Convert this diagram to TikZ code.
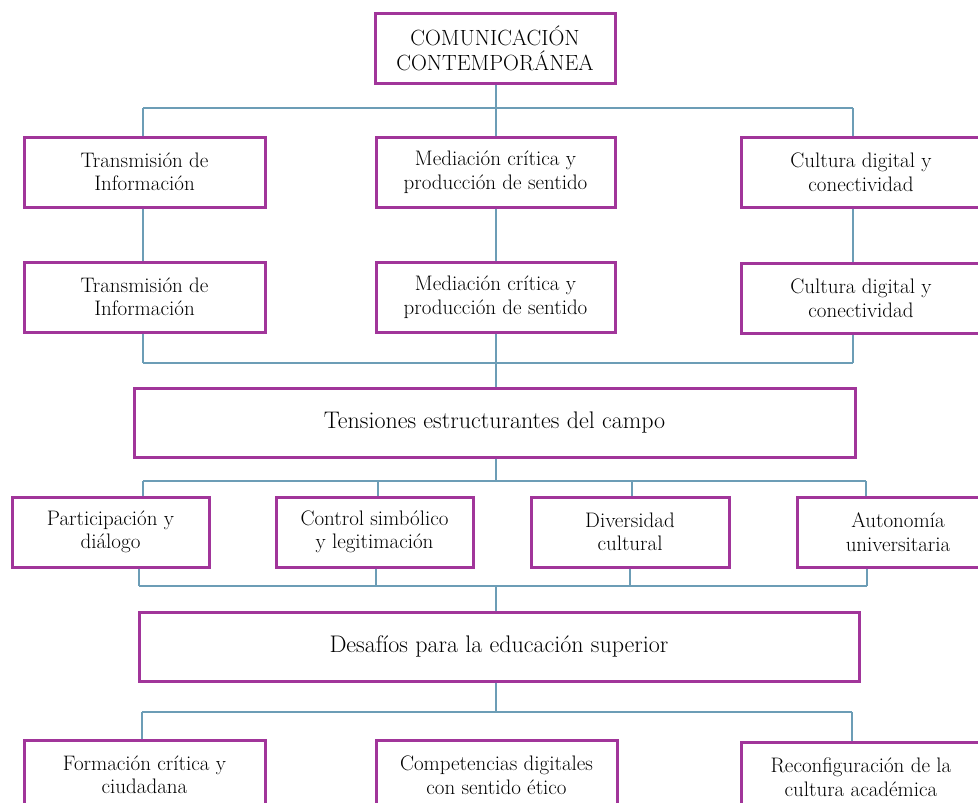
\documentclass[tikz,border=0pt]{standalone}
\definecolor{boxpurple}{HTML}{A1359A}
\definecolor{linkblue}{HTML}{6C9DB6}
\tikzset{
  box/.style={draw=boxpurple, line width=3pt, fill=white, align=center,
    font=\fontsize{21}{23.5}\selectfont, inner sep=0pt},
  titlebox/.style={box, font=\fontsize{22}{25}\selectfont},
  bigbox/.style={box, font=\fontsize{24}{26}\selectfont},
  conn/.style={draw=linkblue, line width=1.3pt},
}
\newcommand{\bx}[7][box]{%
  \node[#1, minimum width={#4-#2}, minimum height={#5-#3}] (#6) at ({(#2+#4)/2},{(#3+#5)/2}) {#7};}
\begin{document}
\begin{tikzpicture}[x=1pt,y=-1pt]
\useasboundingbox (0,0) rectangle (978,803);
\clip (0,0) rectangle (978,803);
% coordinates of buses
\coordinate (u1L) at (143,108); \coordinate (u1M) at (496,108); \coordinate (u1R) at (853,108);
\coordinate (u2L) at (143,363); \coordinate (u2M) at (496,363); \coordinate (u2R) at (853,363);
\coordinate (u3L) at (143,481); \coordinate (u3M) at (496,481); \coordinate (u3R) at (866,481);
\coordinate (u3b) at (378,481); \coordinate (u3c) at (632,481);
\coordinate (u4L) at (139,586); \coordinate (u4M) at (496,586); \coordinate (u4R) at (867,586);
\coordinate (u4b) at (376,586); \coordinate (u4c) at (630,586);
\coordinate (u5L) at (142,712); \coordinate (u5M) at (496,712); \coordinate (u5R) at (852,712);
% connectors (drawn first, boxes cover ends)
\draw[conn] (u1L) -- (u1R);
\draw[conn] (u2L) -- (u2R);
\draw[conn] (u3L) -- (u3R);
\draw[conn] (u4L) -- (u4R);
\draw[conn] (u5L) -- (u5R);
% boxes
\bx[titlebox]{375}{13}{615}{83}{top}{COMUNICACIÓN\\CONTEMPORÁNEA}
\bx{24}{137}{265}{207}{a1}{Transmisión de\\Información}
\bx{376}{137}{615}{207}{a2}{Mediación crítica y\\producción de sentido}
\bx{741}{137}{981}{207}{a3}{Cultura digital y\\conectividad}
\bx{24}{262}{265}{332}{b1}{Transmisión de\\Información}
\bx{376}{262}{615}{332}{b2}{Mediación crítica y\\producción de sentido}
\bx{741}{263}{981}{333}{b3}{Cultura digital y\\conectividad}
\bx[bigbox]{134}{388}{855}{457}{ten}{Tensiones estructurantes del campo}
\bx{12}{497}{209}{567}{c1}{Participación y\\diálogo}
\bx{276}{497}{473}{567}{c2}{Control simbólico\\y legitimación}
\bx{531}{497}{729}{567}{c3}{Diversidad\\cultural}
\bx{797}{497}{999}{567}{c4}{Autonomía\\universitaria}
\bx[bigbox]{139}{612}{859}{681}{des}{Desafíos para la educación superior}
\bx{24}{740}{265}{810}{d1}{Formación crítica y\\ciudadana}
\bx{376}{740}{617}{810}{d2}{Competencias digitales\\con sentido ético}
\bx{741}{742}{981}{812}{d3}{Reconfiguración de la\\cultura académica}
% vertical connectors
\draw[conn] (top.south -| u1M) -- (a2.north -| u1M);
\draw[conn] (u1L) -- (a1.north -| u1L);
\draw[conn] (u1R) -- (a3.north -| u1R);
\draw[conn] (a1.south -| u1L) -- (b1.north -| u1L);
\draw[conn] (a2.south -| u1M) -- (b2.north -| u1M);
\draw[conn] (a3.south -| u1R) -- (b3.north -| u1R);
\draw[conn] (b1.south -| u2L) -- (u2L);
\draw[conn] (b3.south -| u2R) -- (u2R);
\draw[conn] (b2.south -| u2M) -- (ten.north -| u2M);
\draw[conn] (ten.south -| u3M) -- (u3M);
\draw[conn] (u3L) -- (c1.north -| u3L);
\draw[conn] (u3b) -- (c2.north -| u3b);
\draw[conn] (u3c) -- (c3.north -| u3c);
\draw[conn] (u3R) -- (c4.north -| u3R);
\draw[conn] (c1.south -| u4L) -- (u4L);
\draw[conn] (c2.south -| u4b) -- (u4b);
\draw[conn] (c3.south -| u4c) -- (u4c);
\draw[conn] (c4.south -| u4R) -- (u4R);
\draw[conn] (u4M) -- (des.north -| u4M);
\draw[conn] (des.south -| u5M) -- (u5M);
\draw[conn] (u5L) -- (d1.north -| u5L);
\draw[conn] (u5R) -- (d3.north -| u5R);
\end{tikzpicture}
\end{document}
